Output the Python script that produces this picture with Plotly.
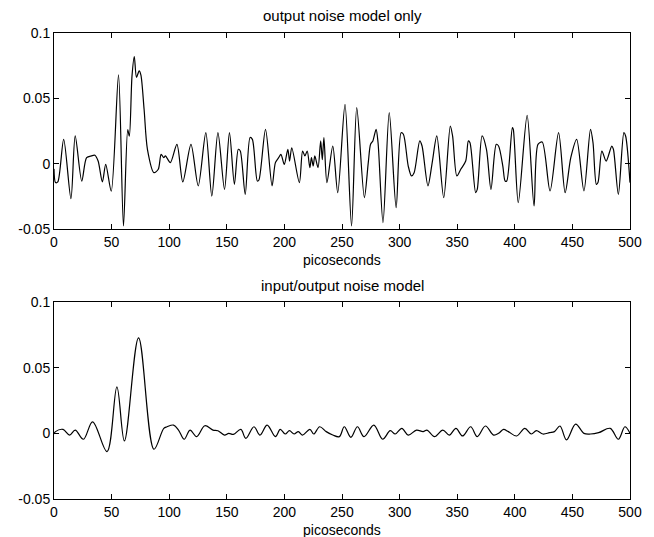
import plotly.graph_objects as go

# ---- data ----
top_x = [0, 1.3, 3.3, 8.4, 14.7, 18.4, 24.1, 28.3, 32.6, 35.5, 38.3, 42.0, 44.9, 49.7,
         56.0, 60.3, 64.0, 65.4, 67.7, 69.7, 71.6, 73.9, 75.4, 78.2, 81.1, 86.8, 90.5,
         93.0, 95.3, 96.7, 101.0, 106.7, 111.8, 118.9, 125.2, 131.8, 137.0, 142.3, 148.0,
         152.3, 156.6, 160.0, 161.7, 166.0, 170.2, 172.2, 176.5, 177.9, 183.6, 189.3,
         192.2, 195.0, 197.0, 199.9, 203.0, 204.5, 206.4, 213.0, 215.8, 217.8, 219.8,
         222.1, 223.5, 225.0, 226.4, 229.2, 231.5, 232.9, 234.3, 236.9, 242.0, 246.3,
         252.6, 258.3, 262.8, 269.4, 272.8, 274.8, 276.8, 279.6, 281.3, 285.6, 291.0,
         297.0, 301.3, 303.3, 307.5, 310.3, 312.6, 317.5, 319.5, 324.6, 328.3, 332.3,
         338.3, 344.0, 346.0, 349.7, 353.1, 357.4, 359.7, 361.1, 366.0, 367.4, 371.6,
         375.4, 379.3, 383.9, 385.9, 389.6, 391.6, 393.0, 397.9, 398.7, 403.0, 410.7,
         416.7, 420.1, 423.8, 430.6, 438.0, 443.7, 448.6, 453.7, 460.0, 465.7, 467.9,
         470.8, 472.2, 475.6, 479.3, 484.2, 485.6, 489.9, 494.7, 496.2, 500]
top_y = [-0.004, -0.0145, -0.014, 0.0186, -0.0268, 0.0212, -0.0133, 0.0046, 0.006, 0.0064,
         0.002, -0.014, -0.0005, -0.021, 0.068, -0.0477, 0.026, 0.021, 0.067, 0.082, 0.066,
         0.071, 0.068, 0.0416, 0.011, -0.0069, -0.0043, 0.0071, 0.0046, 0.006, 0.0008,
         0.0148, -0.014, 0.0148, -0.017, 0.0237, -0.0248, 0.0237, -0.0197, 0.0237, -0.0158,
         0.011, 0.0097, -0.0235, 0.02, 0.0186, -0.0133, -0.0125, 0.0263, -0.017, 0.0008,
         0.0046, 0.0071, -0.0005, 0.011, 0.002, 0.0122, -0.0145, 0.0097, 0.0059, 0.0097,
         -0.003, 0.0046, -0.0018, 0.0059, -0.003, 0.0174, 0.003, 0.02, -0.0145, 0.0135,
         -0.0222, 0.0454, -0.0477, 0.0429, -0.026, 0.0008, 0.0148, 0.0174, 0.0263, 0.016,
         -0.0452, 0.039, -0.0337, 0.0237, 0.0225, -0.0018, -0.0094, -0.0069, 0.0174, 0.0135,
         -0.017, 0.0008, 0.0212, -0.026, 0.0288, 0.0212, -0.0094, -0.0043, 0.002, 0.0174,
         0.016, -0.0222, -0.0197, 0.0212, 0.011, -0.0197, 0.0148, 0.0135, -0.0018, -0.0133,
         -0.0133, 0.0276, 0.0263, -0.0299, 0.037, -0.0324, 0.0148, 0.0166, -0.0209, 0.0237,
         -0.0222, 0.0046, 0.0186, -0.0209, 0.0263, 0.016, -0.0158, -0.0145, 0.0097, 0.002,
         0.0135, 0.011, -0.0235, 0.0237, 0.0212, -0.0145]

bot_x = [0, 1.3, 7.8, 13.5, 18.4, 25.5, 33.5, 46.0, 54.6, 61.1, 73.4, 86.8, 95.3, 98.1,
         103.8, 108.1, 113.0, 118.1, 123.8, 130.9, 138.0, 142.3, 148.0, 151.7, 155.7, 162.2,
         166.5, 173.6, 178.8, 185.0, 192.2, 196.4, 200.7, 204.4, 208.4, 212.1, 215.8, 222.1,
         225.5, 230.6, 236.3, 242.0, 247.7, 252.0, 257.7, 263.4, 269.1, 277.6, 285.3, 291.9,
         296.2, 301.9, 307.5, 314.7, 320.4, 323.8, 330.3, 337.5, 343.2, 348.9, 354.6, 361.7,
         367.4, 374.5, 381.6, 385.9, 390.2, 394.4, 401.6, 408.7, 414.4, 418.7, 424.4, 430.1,
         434.4, 439.2, 444.9, 452.8, 460.0, 465.7, 472.8, 482.8, 489.9, 495.6, 500]
bot_y = [-0.0005, 0.0013, 0.003, -0.0013, 0.0025, -0.0045, 0.0088, -0.0139, 0.0354, -0.0058,
         0.0727, -0.0121, 0.0038, 0.005, 0.0063, 0.0025, -0.0045, 0.0025, -0.0025, 0.0058,
         0.0025, 0.002, -0.0013, 0.0, -0.0008, 0.003, -0.0038, 0.005, -0.0013, 0.0063,
         -0.0025, 0.003, -0.0005, 0.002, -0.0005, 0.0013, -0.0013, 0.003, -0.0005, 0.005,
         0.0013, -0.0013, -0.0025, 0.005, -0.003, 0.005, -0.0025, 0.0063, -0.0045, 0.002,
         -0.0005, 0.0038, -0.0013, 0.0025, 0.0013, 0.0025, -0.0025, 0.0025, -0.0013, 0.0038,
         -0.002, 0.005, -0.0025, 0.0056, -0.0013, 0.0, 0.003, 0.0013, -0.002, 0.0038, -0.0005,
         0.002, -0.0005, 0.0005, 0.0013, 0.0056, -0.005, 0.007, 0.0, -0.0005, 0.0005, 0.0038,
         -0.0045, 0.005, 0.0]

x_ticks = [0, 50, 100, 150, 200, 250, 300, 350, 400, 450, 500]
y_ticks = [-0.05, 0, 0.05, 0.1]
y_tick_text = ["-0.05", "0", "0.05", "0.1"]
top_title = "output noise model only"
bot_title = "input/output noise model"
x_label = "picoseconds"

FONT = "Liberation Sans, Arial, Helvetica, sans-serif"

fig = go.Figure()
fig.add_trace(go.Scatter(x=top_x, y=top_y, mode="lines", xaxis="x", yaxis="y",
                         line=dict(color="black", width=1.2, shape="spline", smoothing=0.8),
                         showlegend=False, hoverinfo="skip"))
fig.add_trace(go.Scatter(x=bot_x, y=bot_y, mode="lines", xaxis="x2", yaxis="y2",
                         line=dict(color="black", width=1.2, shape="spline", smoothing=1.0),
                         showlegend=False, hoverinfo="skip"))

ax_common = dict(showgrid=False, zeroline=False, showline=True, linecolor="black",
                 linewidth=1, mirror="ticks", ticks="inside", ticklen=5,
                 tickcolor="black", tickfont=dict(family=FONT, size=14, color="black"))

fig.update_layout(
    width=654, height=537,
    margin=dict(l=54, r=16, t=33, b=38),
    paper_bgcolor="white", plot_bgcolor="white",
    xaxis=dict(domain=[0, 1], anchor="y", range=[0, 500], tickvals=x_ticks, **ax_common),
    yaxis=dict(domain=[0.5794, 1], anchor="x", range=[-0.05, 0.1],
               tickvals=y_ticks, ticktext=y_tick_text, **ax_common),
    xaxis2=dict(domain=[0, 1], anchor="y2", range=[0, 500], tickvals=x_ticks, **ax_common),
    yaxis2=dict(domain=[0, 0.4227], anchor="x2", range=[-0.05, 0.1],
                tickvals=y_ticks, ticktext=y_tick_text, **ax_common),
    annotations=[
        dict(text=top_title, x=0.5, y=1.0386, xref="paper", yref="paper",
             showarrow=False, font=dict(family=FONT, size=15, color="black"),
             xanchor="center", yanchor="middle"),
        dict(text=x_label, x=0.5, y=0.513, xref="paper", yref="paper",
             showarrow=False, font=dict(family=FONT, size=14, color="black"),
             xanchor="center", yanchor="middle"),
        dict(text=bot_title, x=0.5, y=0.459, xref="paper", yref="paper",
             showarrow=False, font=dict(family=FONT, size=15, color="black"),
             xanchor="center", yanchor="middle"),
        dict(text=x_label, x=0.5, y=-0.066, xref="paper", yref="paper",
             showarrow=False, font=dict(family=FONT, size=14, color="black"),
             xanchor="center", yanchor="middle"),
    ],
)

fig.write_html("out.html", config={"displayModeBar": False},
               post_script="document.body.style.margin='0px';document.body.style.overflow='hidden';")
